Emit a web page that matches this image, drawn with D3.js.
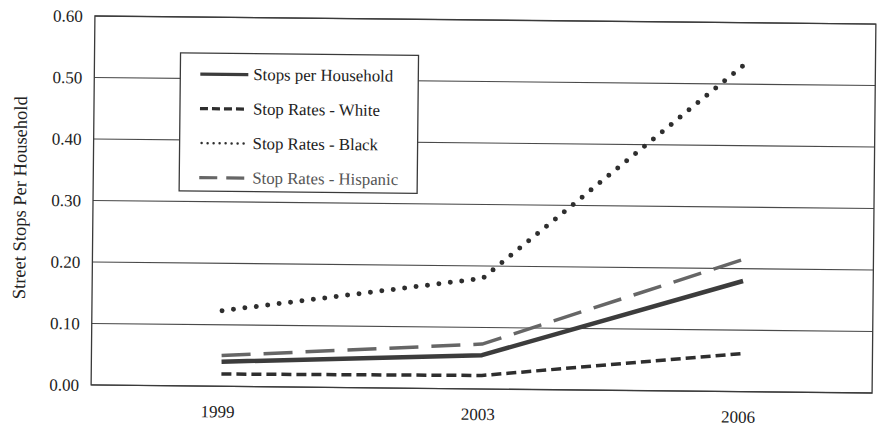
<!DOCTYPE html>
<html><head><meta charset="utf-8">
<script src="https://cdn.jsdelivr.net/npm/d3@7"></script>
<style>html,body{margin:0;padding:0;background:#fff;}svg{display:block;}</style>
</head><body>
<script>
const categories = ["1999", "2003", "2006"];
const stopsPerHousehold = [0.04, 0.055, 0.18];
const stopRatesWhite = [0.02, 0.022, 0.062];
const stopRatesBlack = [0.123, 0.18, 0.533];
const stopRatesHispanic = [0.05, 0.073, 0.215];
const yTicks = [0, 0.1, 0.2, 0.3, 0.4, 0.5, 0.6];
const seriesNames = ["Stops per Household", "Stop Rates - White", "Stop Rates - Black", "Stop Rates - Hispanic"];
const yTitle = "Street Stops Per Household";

const W = 877, H = 428;
const m = {left: 93, right: 874, top: 20, bottom: 389};
const font = "'Liberation Serif', 'Times New Roman', serif";

const svg = d3.select("body").append("svg").attr("width", W).attr("height", H);
const root = svg.append("g").attr("transform", `rotate(0.59, ${(m.left+m.right)/2}, ${(m.top+m.bottom)/2})`);

const x = d3.scalePoint().domain(categories).range([m.left, m.right]).padding(0.5);
const y = d3.scaleLinear().domain([0, 0.6]).range([m.bottom, m.top]);

// gridlines
root.append("g").selectAll("line").data(yTicks).join("line")
  .attr("x1", m.left).attr("x2", m.right)
  .attr("y1", d => y(d)).attr("y2", d => y(d))
  .attr("stroke", "#4a4a4a").attr("stroke-width", 1.1);

// frame
root.append("rect").attr("x", m.left).attr("y", m.top)
  .attr("width", m.right - m.left).attr("height", m.bottom - m.top)
  .attr("fill", "none").attr("stroke", "#3a3a3a").attr("stroke-width", 1.3);

// y axis labels
const yAxis = d3.axisLeft(y).tickValues(yTicks).tickFormat(d3.format(".2f")).tickSize(0).tickPadding(12);
const yg = root.append("g").attr("transform", `translate(${m.left},0)`).call(yAxis);
yg.select(".domain").remove();
yg.selectAll("text").attr("font-family", font).attr("font-size", 17).attr("fill", "#222");

// x axis labels
const xAxis = d3.axisBottom(x).tickSize(0).tickPadding(19);
const xg = root.append("g").attr("transform", `translate(0,${m.bottom})`).call(xAxis);
xg.select(".domain").remove();
xg.selectAll("text").attr("font-family", font).attr("font-size", 17).attr("fill", "#222").attr("dx", -4);

// y title
root.append("text").attr("transform", `translate(26,${(m.top+m.bottom)/2 - 2}) rotate(-90)`)
  .attr("text-anchor", "middle").attr("font-family", font).attr("font-size", 18.5).attr("fill", "#222")
  .text(yTitle);

const styles = [
  {data: stopsPerHousehold, color: "#3c3c3c", width: 4.5, dash: null, cap: "butt"},
  {data: stopRatesWhite, color: "#2e2e2e", width: 3.5, dash: "10,5", cap: "butt"},
  {data: stopRatesBlack, color: "#2e2e2e", width: 5, dash: "0,11.5", cap: "round"},
  {data: stopRatesHispanic, color: "#666", width: 3.5, dash: "29,13", cap: "butt"}
];

const line = d3.line().x((d, i) => x(categories[i])).y(d => y(d));
root.append("g").selectAll("path").data(styles).join("path")
  .attr("d", s => line(s.data))
  .attr("fill", "none").attr("stroke", s => s.color).attr("stroke-width", s => s.width)
  .attr("stroke-dasharray", s => s.dash).attr("stroke-linecap", s => s.cap)
  .attr("stroke-linejoin", "round");

// legend
const lg = root.append("g").attr("transform", "translate(179,56)");
lg.append("rect").attr("width", 238).attr("height", 138)
  .attr("fill", "#fff").attr("stroke", "#3a3a3a").attr("stroke-width", 1.3);
const legendDash = ["", "8,4", "0,6", "18,9"];
const items = lg.selectAll("g.item").data(styles).join("g").attr("class", "item")
  .attr("transform", (d, i) => `translate(0,${21 + i * 34.5})`);
items.append("line").attr("x1", s => s.cap === "round" ? 22 : 20).attr("x2", 68).attr("y1", 0).attr("y2", 0)
  .attr("stroke", s => s.color).attr("stroke-width", (s, i) => i === 2 ? 2.5 : 3.2)
  .attr("stroke-dasharray", (s, i) => legendDash[i] || null).attr("stroke-linecap", s => s.cap);
items.append("text").attr("x", 73).attr("y", 5.5)
  .attr("font-family", font).attr("font-size", 16.8).attr("fill", (s, i) => i === 3 ? "#555" : "#222")
  .text((s, i) => seriesNames[i]);
</script>
</body></html>
